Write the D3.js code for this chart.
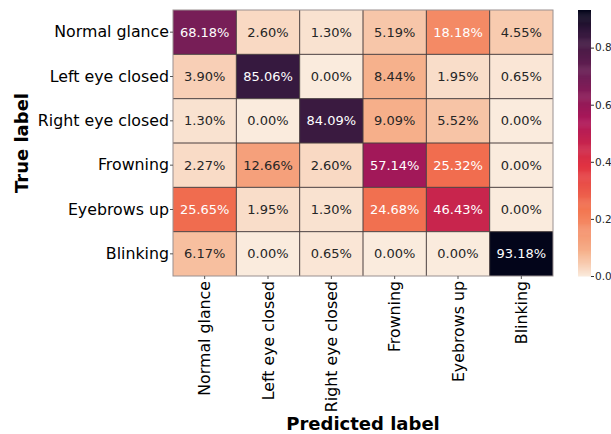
<!DOCTYPE html>
<html>
<head>
<meta charset="utf-8">
<script src="https://cdn.jsdelivr.net/npm/d3@7"></script>
<style>
  html, body { margin: 0; padding: 0; background: #fff; }
  svg { display: block; font-family: "DejaVu Sans", sans-serif; }
</style>
</head>
<body>
<svg id="chart" width="611" height="434"></svg>
<script>
// Class names for both axes of the confusion matrix
const classes = ["Normal glance", "Left eye closed", "Right eye closed", "Frowning", "Eyebrows up", "Blinking"];

// Row-normalised confusion matrix (true label rows, predicted label columns), fractions
const rowNormalGlance  = [0.6818, 0.0260, 0.0130, 0.0519, 0.1818, 0.0455];
const rowLeftEye       = [0.0390, 0.8506, 0.0000, 0.0844, 0.0195, 0.0065];
const rowRightEye      = [0.0130, 0.0000, 0.8409, 0.0909, 0.0552, 0.0000];
const rowFrowning      = [0.0227, 0.1266, 0.0260, 0.5714, 0.2532, 0.0000];
const rowEyebrowsUp    = [0.2565, 0.0195, 0.0130, 0.2468, 0.4643, 0.0000];
const rowBlinking      = [0.0617, 0.0000, 0.0065, 0.0000, 0.0000, 0.9318];
const matrix = [rowNormalGlance, rowLeftEye, rowRightEye, rowFrowning, rowEyebrowsUp, rowBlinking];

// Colour bar tick values
const colorbarTicks = [0.0, 0.2, 0.4, 0.6, 0.8];

// "rocket" colour map key points (dark -> light)
const rocketStops = ["#03051a", "#35193e", "#701f57", "#ad1759", "#e13342", "#f37651", "#f6b48f", "#faebdd"];
const rocketPos   = [0, 1/12, 3/12, 5/12, 7/12, 9/12, 11/12, 1];
const rocket = d3.scaleLinear().domain(rocketPos).range(rocketStops).interpolate(d3.interpolateRgb).clamp(true);

const vmax = d3.max(matrix.flat());
const vmin = 0;
// reversed map: low values light, high values dark
const colorOf = v => rocket(1 - (v - vmin) / (vmax - vmin));

function luminance(c) {
  const rgb = d3.rgb(c);
  const lin = x => { x /= 255; return x <= 0.03928 ? x / 12.92 : Math.pow((x + 0.055) / 1.055, 2.4); };
  return 0.2126 * lin(rgb.r) + 0.7152 * lin(rgb.g) + 0.0722 * lin(rgb.b);
}

const svg = d3.select("#chart");

const hm = { left: 173, right: 553, top: 10, bottom: 276 };
const x = d3.scaleBand().domain(classes).range([hm.left, hm.right]);
const y = d3.scaleBand().domain(classes).range([hm.top, hm.bottom]);

// Cells
const cells = [];
matrix.forEach((row, i) => row.forEach((v, j) => cells.push({ t: classes[i], p: classes[j], v })));

const g = svg.append("g");
g.selectAll("rect.cell").data(cells).join("rect")
  .attr("class", "cell")
  .attr("x", d => x(d.p))
  .attr("y", d => y(d.t))
  .attr("width", x.bandwidth())
  .attr("height", y.bandwidth())
  .attr("fill", d => colorOf(d.v));

// Inner cell borders
const innerX = classes.slice(1).map(c => x(c));
const innerY = classes.slice(1).map(c => y(c));
g.selectAll("line.vx").data(innerX).join("line")
  .attr("x1", d => d).attr("x2", d => d)
  .attr("y1", hm.top).attr("y2", hm.bottom)
  .attr("stroke", "#4a3f3f").attr("stroke-width", 1);
g.selectAll("line.hy").data(innerY).join("line")
  .attr("y1", d => d).attr("y2", d => d)
  .attr("x1", hm.left).attr("x2", hm.right)
  .attr("stroke", "#4a3f3f").attr("stroke-width", 1);
// Outer border (half-width edge)
g.append("rect")
  .attr("x", hm.left).attr("y", hm.top)
  .attr("width", hm.right - hm.left).attr("height", hm.bottom - hm.top)
  .attr("fill", "none").attr("stroke", "#9a9090").attr("stroke-width", 1);

// Annotations
g.selectAll("text.ann").data(cells).join("text")
  .attr("class", "ann")
  .attr("x", d => x(d.p) + x.bandwidth() / 2)
  .attr("y", d => y(d.t) + y.bandwidth() / 2)
  .attr("text-anchor", "middle")
  .attr("dominant-baseline", "central")
  .attr("font-size", 13)
  .attr("fill", d => luminance(colorOf(d.v)) > 0.408 ? "#262626" : "#ffffff")
  .text(d => (d.v * 100).toFixed(2) + "%");

// Y axis (true label)
const yAxis = d3.axisLeft(y).tickSize(3).tickPadding(1);
const yg = svg.append("g").attr("transform", `translate(${hm.left},0)`).call(yAxis);
yg.select(".domain").remove();
yg.selectAll(".tick line").attr("stroke", "#555");
yg.selectAll(".tick text").attr("font-size", 15.8).attr("fill", "#000").attr("font-family", "DejaVu Sans");

// X axis (predicted label), labels rotated vertically
const xAxis = d3.axisBottom(x).tickSize(3).tickPadding(3);
const xg = svg.append("g").attr("transform", `translate(0,${hm.bottom})`).call(xAxis);
xg.select(".domain").remove();
xg.selectAll(".tick line").attr("stroke", "#555");
xg.selectAll(".tick text")
  .attr("font-size", 15.8).attr("fill", "#000").attr("font-family", "DejaVu Sans")
  .attr("transform", "rotate(-90)")
  .attr("x", -5).attr("y", 0).attr("dy", null)
  .attr("text-anchor", "end")
  .attr("dominant-baseline", "central");

// Axis titles
svg.append("text")
  .attr("x", (hm.left + hm.right) / 2).attr("y", 430)
  .attr("text-anchor", "middle")
  .attr("font-size", 18).attr("font-weight", "bold").attr("fill", "#000")
  .text("Predicted label");
svg.append("text")
  .attr("transform", `translate(28,${(hm.top + hm.bottom) / 2}) rotate(-90)`)
  .attr("text-anchor", "middle")
  .attr("font-size", 18).attr("font-weight", "bold").attr("fill", "#000")
  .text("True label");

// Colour bar
const cb = { left: 578, width: 13 };
const cbScale = d3.scaleLinear().domain([vmin, vmax]).range([hm.bottom, hm.top]);
const steps = d3.range(0, 256);
const cbg = svg.append("g");
cbg.selectAll("rect").data(steps).join("rect")
  .attr("x", cb.left)
  .attr("width", cb.width)
  .attr("y", s => cbScale(vmin + (s + 1) / 256 * (vmax - vmin)))
  .attr("height", s => cbScale(vmin + s / 256 * (vmax - vmin)) - cbScale(vmin + (s + 1) / 256 * (vmax - vmin)) + 0.5)
  .attr("fill", s => colorOf(vmin + (s + 0.5) / 256 * (vmax - vmin)));

const cbAxis = d3.axisRight(cbScale).tickValues(colorbarTicks).tickFormat(d3.format(".1f")).tickSize(3).tickPadding(1);
const cag = svg.append("g").attr("transform", `translate(${cb.left + cb.width},0)`).call(cbAxis);
cag.select(".domain").remove();
cag.selectAll(".tick line").attr("stroke", "#333");
cag.selectAll(".tick text").attr("font-size", 10.5).attr("fill", "#262626").attr("font-family", "DejaVu Sans");
</script>
</body>
</html>
